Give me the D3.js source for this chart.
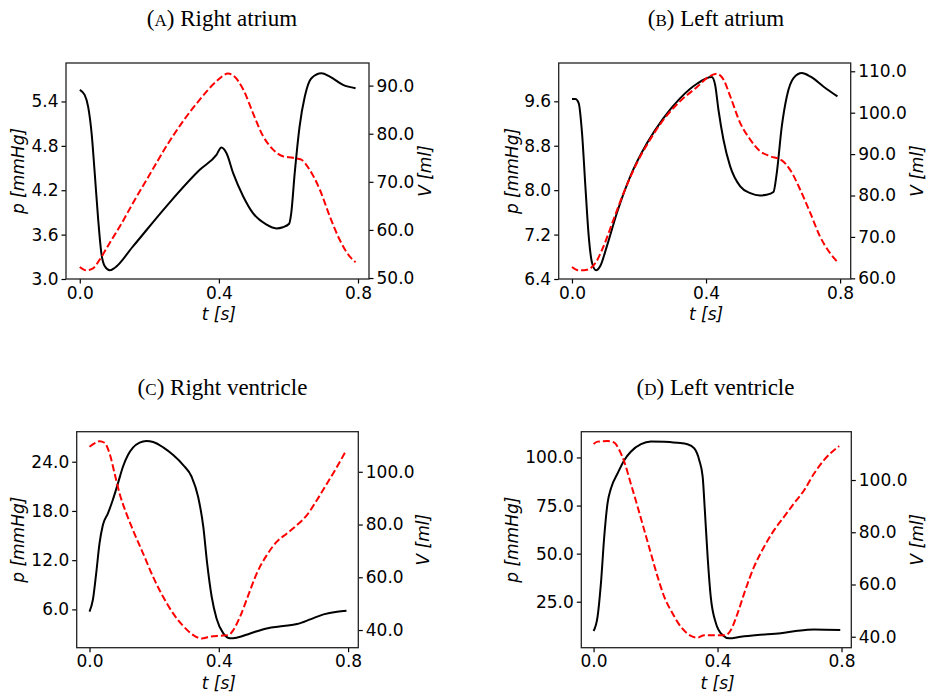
<!DOCTYPE html>
<html>
<head>
<meta charset="utf-8">
<script src="https://cdn.jsdelivr.net/npm/d3@7"></script>
<style>
  body { margin: 0; background: #fff; }
  svg { display: block; }
  .tick text { font-family: "DejaVu Sans", sans-serif; font-size: 17px; fill: #000; }
  .lbl { font-family: "DejaVu Sans", sans-serif; font-size: 17px; font-style: italic; }
  .title { font-family: "Liberation Serif", "DejaVu Serif", serif; font-size: 23px; }
</style>
</head>
<body>
<svg id="chart" width="928" height="693"></svg>
<script>
/* Data */

// (A) Right atrium
const raPt = [0, 0.014, 0.024, 0.034, 0.043, 0.053, 0.062, 0.072, 0.086, 0.10, 0.153, 0.249, 0.345, 0.393, 0.407, 0.422, 0.441, 0.47, 0.498, 0.537, 0.565, 0.584, 0.602, 0.608, 0.618, 0.632, 0.647, 0.666, 0.695, 0.719, 0.757, 0.793];
const raP = [5.556, 5.489, 5.331, 4.971, 4.431, 3.80, 3.351, 3.171, 3.117, 3.149, 3.441, 3.983, 4.476, 4.679, 4.778, 4.70, 4.431, 4.116, 3.89, 3.735, 3.684, 3.70, 3.747, 3.891, 4.431, 5.061, 5.466, 5.714, 5.78, 5.736, 5.624, 5.579];
const raVt = [0, 0.019, 0.038, 0.057, 0.086, 0.115, 0.153, 0.201, 0.249, 0.297, 0.345, 0.393, 0.426, 0.441, 0.47, 0.498, 0.527, 0.556, 0.584, 0.613, 0.637, 0.661, 0.69, 0.719, 0.747, 0.776, 0.793];
const raV = [52.3, 51.6, 52.0, 53.8, 57.3, 60.7, 65.6, 71.5, 77.4, 82.6, 87.1, 90.9, 92.5, 92.1, 89.2, 84.3, 79.5, 76.7, 75.3, 75.0, 74.6, 72.5, 68.4, 62.8, 58.0, 54.5, 53.3];

// (B) Left atrium
const laPt = [0, 0.01, 0.02, 0.03, 0.04, 0.05, 0.06, 0.072, 0.084, 0.104, 0.134, 0.174, 0.224, 0.273, 0.323, 0.373, 0.417, 0.427, 0.437, 0.452, 0.472, 0.502, 0.532, 0.561, 0.581, 0.601, 0.611, 0.626, 0.641, 0.661, 0.686, 0.711, 0.75, 0.792];
const laP = [9.64, 9.64, 9.568, 9.028, 8.068, 7.168, 6.688, 6.556, 6.628, 6.988, 7.588, 8.248, 8.848, 9.298, 9.658, 9.916, 10.036, 9.898, 9.448, 8.908, 8.428, 8.068, 7.948, 7.906, 7.918, 7.966, 8.308, 9.148, 9.688, 10.018, 10.108, 10.048, 9.868, 9.688];
const laVt = [0, 0.02, 0.045, 0.07, 0.094, 0.124, 0.154, 0.194, 0.233, 0.273, 0.323, 0.373, 0.407, 0.432, 0.452, 0.472, 0.502, 0.532, 0.561, 0.591, 0.626, 0.651, 0.681, 0.711, 0.74, 0.77, 0.795];
const laV = [62.74, 61.93, 62.1, 63.7, 67.7, 74.2, 80.6, 87.9, 93.5, 98.3, 102.8, 106.2, 108.6, 109.4, 108.0, 104.0, 97.5, 93.5, 90.7, 89.5, 88.5, 86.2, 81.4, 75.8, 70.1, 66.1, 63.7];

// (C) Right ventricle
const rvPt = [0, 0.0103, 0.0207, 0.031, 0.0414, 0.057, 0.072, 0.088, 0.1035, 0.119, 0.1345, 0.155, 0.176, 0.197, 0.228, 0.259, 0.29, 0.316, 0.336, 0.352, 0.364, 0.378, 0.393, 0.414, 0.435, 0.455, 0.497, 0.548, 0.6, 0.642, 0.683, 0.724, 0.766, 0.795];
const rvP = [5.72, 7.14, 10.39, 14.04, 16.28, 17.70, 19.33, 21.36, 23.39, 24.81, 25.71, 26.32, 26.52, 26.40, 25.75, 24.81, 23.59, 22.17, 19.73, 16.08, 11.61, 7.54, 4.90, 3.07, 2.47, 2.55, 3.07, 3.68, 3.97, 4.21, 4.78, 5.39, 5.72, 5.84];
const rvVt = [0, 0.0155, 0.031, 0.0466, 0.062, 0.0776, 0.093, 0.114, 0.1345, 0.1656, 0.1966, 0.2277, 0.2587, 0.29, 0.321, 0.347, 0.3726, 0.4036, 0.43, 0.445, 0.4657, 0.4916, 0.5175, 0.5485, 0.5796, 0.6106, 0.6417, 0.6727, 0.7037, 0.7348, 0.7658, 0.7917];
const rvV = [109.5, 110.75, 111.6, 111.0, 107.0, 99.4, 91.8, 84.2, 77.9, 69.1, 60.2, 52.6, 46.3, 41.5, 38.1, 36.8, 37.5, 37.85, 38.1, 40.0, 45.05, 53.3, 61.5, 68.4, 73.5, 76.6, 79.8, 83.6, 89.3, 95.6, 101.9, 107.6];

// (D) Left ventricle
const lvPt = [0, 0.0129, 0.0237, 0.0344, 0.045, 0.056, 0.0774, 0.099, 0.12, 0.153, 0.185, 0.228, 0.271, 0.303, 0.325, 0.341, 0.352, 0.359, 0.368, 0.378, 0.395, 0.416, 0.4376, 0.475, 0.529, 0.604, 0.658, 0.712, 0.796];
const lvP = [9.75, 17.2, 34.5, 58.8, 76.1, 83.9, 91.7, 98.6, 103.0, 106.9, 108.3, 108.2, 107.6, 106.9, 104.7, 98.6, 90.0, 72.6, 48.4, 27.6, 13.7, 7.7, 5.94, 6.8, 7.7, 8.55, 9.9, 10.6, 10.3];
const lvVt = [0, 0.013, 0.045, 0.067, 0.083, 0.099, 0.12, 0.142, 0.1634, 0.185, 0.2065, 0.228, 0.255, 0.2817, 0.314, 0.335, 0.357, 0.389, 0.427, 0.443, 0.4645, 0.486, 0.518, 0.5505, 0.583, 0.615, 0.647, 0.68, 0.712, 0.744, 0.7925];
const lvV = [113.8, 114.7, 114.9, 114.3, 111.5, 107.0, 98.7, 89.8, 80.9, 71.9, 63.0, 55.3, 48.9, 43.8, 40.3, 39.6, 40.6, 40.6, 40.6, 42.6, 48.9, 56.6, 66.8, 74.5, 80.9, 86.0, 91.1, 96.2, 102.6, 107.7, 113.0];

// Tick values
const tTicks = [0.0, 0.4, 0.8];
const raPTicks = [3.0, 3.6, 4.2, 4.8, 5.4];
const raVTicks = [50, 60, 70, 80, 90];
const laPTicks = [6.4, 7.2, 8.0, 8.8, 9.6];
const laVTicks = [60, 70, 80, 90, 100, 110];
const rvPTicks = [6, 12, 18, 24];
const rvVTicks = [40, 60, 80, 100];
const lvPTicks = [25, 50, 75, 100];
const lvVTicks = [40, 60, 80, 100];

/* Panels: layout */

const panels = [
  { letter: 'A', name: 'Right atrium', pt: raPt, p: raP, vt: raVt, v: raV,
    pDom: [3.0, 5.92], vDom: [49.8, 94.7], pTicks: raPTicks, vTicks: raVTicks,
    box: [66, 63, 369, 279], titleX: 222, titleY: 18, pLblX: 18, vLblX: 425 },
  { letter: 'B', name: 'Left atrium', pt: laPt, p: laP, vt: laVt, v: laV,
    pDom: [6.4, 10.29], vDom: [59.84, 112.0], pTicks: laPTicks, vTicks: laVTicks,
    box: [558.7, 63, 850.7, 279], titleX: 716, titleY: 18, pLblX: 512, vLblX: 917 },
  { letter: 'C', name: 'Right ventricle', pt: rvPt, p: rvP, vt: rvVt, v: rvV,
    pDom: [1.33, 27.66], vDom: [33.3, 115.2], pTicks: rvPTicks, vTicks: rvVTicks,
    box: [76.7, 431.7, 358.3, 647.7], titleX: 222.5, titleY: 386.5, pLblX: 18, vLblX: 423 },
  { letter: 'D', name: 'Left ventricle', pt: lvPt, p: lvP, vt: lvVt, v: lvV,
    pDom: [1.09, 113.4], vDom: [35.8, 118.5], pTicks: lvPTicks, vTicks: lvVTicks,
    box: [581.3, 431.7, 851.3, 647.7], titleX: 715.5, titleY: 386.5, pLblX: 512, vLblX: 917 }
];

const svg = d3.select('#chart');

const drawPanel = cfg => {
  const [x0, y0, x1, y1] = cfg.box;
  const x = d3.scaleLinear().domain([-0.0396, 0.8316]).range([x0, x1]);
  const yP = d3.scaleLinear().domain(cfg.pDom).range([y1, y0]);
  const yV = d3.scaleLinear().domain(cfg.vDom).range([y1, y0]);
  const g = svg.append('g');

  // title with small caps letter
  const title = g.append('text')
    .attr('class', 'title')
    .attr('x', cfg.titleX)
    .attr('y', cfg.titleY)
    .attr('dy', '0.35em')
    .attr('text-anchor', 'middle');
  title.append('tspan').text('(');
  title.append('tspan').style('font-size', '17px').text(cfg.letter);
  title.append('tspan').text(') ' + cfg.name);

  // lines
  const clipId = 'clip' + cfg.letter;
  g.append('clipPath').attr('id', clipId)
    .append('rect').attr('x', x0).attr('y', y0).attr('width', x1 - x0).attr('height', y1 - y0);

  const lineP = d3.line()
    .x((d, i) => x(cfg.pt[i]))
    .y(d => yP(d))
    .curve(d3.curveMonotoneX);
  const lineV = d3.line()
    .x((d, i) => x(cfg.vt[i]))
    .y(d => yV(d))
    .curve(d3.curveMonotoneX);

  g.append('path')
    .attr('clip-path', `url(#${clipId})`)
    .attr('d', lineP(cfg.p))
    .attr('fill', 'none')
    .attr('stroke', '#000')
    .attr('stroke-width', 2);

  g.append('path')
    .attr('clip-path', `url(#${clipId})`)
    .attr('d', lineV(cfg.v))
    .attr('fill', 'none')
    .attr('stroke', '#ff0000')
    .attr('stroke-width', 2)
    .attr('stroke-dasharray', '7,3');

  // axes
  const styleAxis = sel => {
    sel.select('.domain').remove();
    sel.selectAll('.tick line').attr('stroke', '#000').attr('stroke-width', 1.2);
  };

  g.append('g')
    .attr('transform', `translate(0,${y1})`)
    .call(d3.axisBottom(x).tickValues(tTicks).tickFormat(d3.format('.1f')).tickSize(4.5).tickPadding(3))
    .call(styleAxis);

  g.append('g')
    .attr('transform', `translate(${x0},0)`)
    .call(d3.axisLeft(yP).tickValues(cfg.pTicks).tickFormat(d3.format('.1f')).tickSize(4.5).tickPadding(3))
    .call(styleAxis);

  g.append('g')
    .attr('transform', `translate(${x1},0)`)
    .call(d3.axisRight(yV).tickValues(cfg.vTicks).tickFormat(d3.format('.1f')).tickSize(4.5).tickPadding(3))
    .call(styleAxis);

  g.append('rect')
    .attr('x', x0).attr('y', y0)
    .attr('width', x1 - x0).attr('height', y1 - y0)
    .attr('fill', 'none')
    .attr('stroke', '#222')
    .attr('stroke-width', 1.3);

  // axis labels
  g.append('text')
    .attr('class', 'lbl')
    .attr('x', (x(0) + x(0.8)) / 2)
    .attr('y', y1 + 35)
    .attr('dy', '0.35em')
    .attr('text-anchor', 'middle')
    .text('t [s]');

  const midY = (y0 + y1) / 2;
  g.append('text')
    .attr('class', 'lbl')
    .attr('transform', `translate(${cfg.pLblX},${midY}) rotate(-90)`)
    .attr('dy', '0.35em')
    .attr('text-anchor', 'middle')
    .text('p [mmHg]');

  g.append('text')
    .attr('class', 'lbl')
    .attr('transform', `translate(${cfg.vLblX},${midY}) rotate(-90)`)
    .attr('dy', '0.35em')
    .attr('text-anchor', 'middle')
    .text('V [ml]');
};

panels.forEach(drawPanel);
</script>
</body>
</html>
